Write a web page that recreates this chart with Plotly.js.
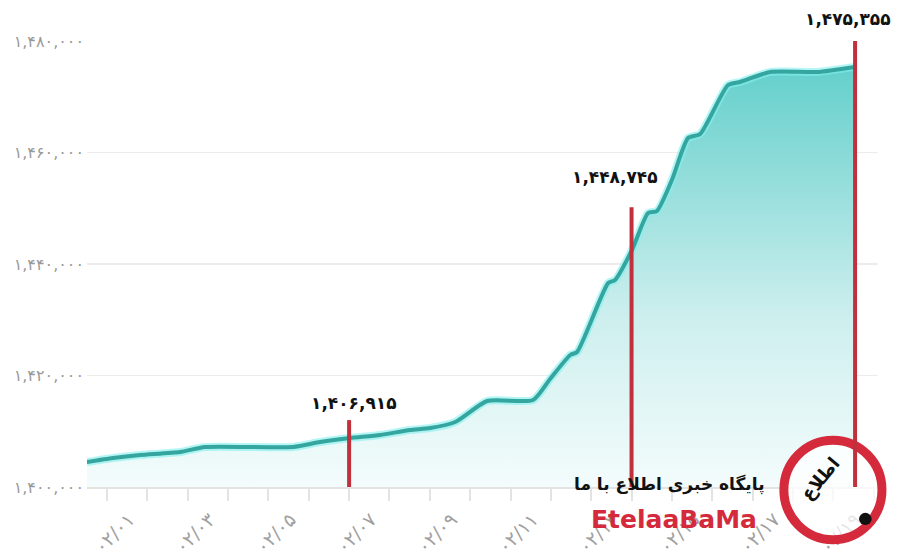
<!DOCTYPE html>
<html>
<head>
<meta charset="utf-8">
<script src="https://cdn.plot.ly/plotly-3.0.1.min.js"></script>
<style>html,body{margin:0;padding:0;background:#fff;}#chart{width:898px;height:557px;}</style>
</head>
<body>
<div id="chart"></div>
<script>
// ---- data ----
const days = [0.50, 1.15, 1.82, 2.81, 3.43, 5.61, 6.28, 7.02, 7.77, 8.51, 9.01, 9.63, 10.42, 11.56, 11.98, 12.48, 12.65, 13.42, 13.59, 14.01, 14.41, 14.63, 15.00, 15.40, 15.70, 16.39, 16.69, 17.43, 18.60, 19.54];
const values = [1404480, 1405200, 1405740, 1406280, 1407180, 1407180, 1408070, 1408790, 1409330, 1410220, 1410580, 1411660, 1415430, 1415610, 1419370, 1423680, 1424220, 1436590, 1437130, 1442510, 1449150, 1449510, 1455070, 1462600, 1463320, 1472110, 1472650, 1474440, 1474440, 1475355];

const markerDays = [7, 14, 19.54];
const markerValues = [1406915, 1448745, 1475355];
const markerTops = [1412000, 1450200, 1480000];

const yTickVals = [1400000, 1420000, 1440000, 1460000, 1480000];
const xTickDays = [1,2,3,4,5,6,7,8,9,10,11,12,13,14,15,16,17,18,19,20];
const xTickLabels = ['۰۲/۰۱','','۰۲/۰۳','','۰۲/۰۵','','۰۲/۰۷','','۰۲/۰۹','','۰۲/۱۱','','۰۲/۱۳','','۰۲/۱۵','','۰۲/۱۷','','۰۲/۱۹',''];

// ---- helpers ----
const faDigits = '۰۱۲۳۴۵۶۷۸۹';
function toFa(n) {
  return n.toLocaleString('en-US').replace(/[0-9]/g, d => faDigits[+d]);
}

const FONT = 'DejaVu Sans, Noto Sans, sans-serif';
const RED = '#c1303d';
const LINE_SHAPE = {shape: 'spline', smoothing: 0.6};

const area = {
  x: days, y: values, type: 'scatter', mode: 'lines',
  line: Object.assign({color: 'rgba(0,0,0,0)', width: 0}, LINE_SHAPE),
  fill: 'tozeroy',
  fillgradient: {
    type: 'vertical', start: 1400000, stop: 1476000,
    colorscale: [[0, '#f4fcfc'], [0.4, '#cdefee'], [1, '#63cfcb']]
  },
  hoverinfo: 'skip'
};
const glow = {
  x: days, y: values, type: 'scatter', mode: 'lines',
  line: Object.assign({color: 'rgba(130,240,238,0.6)', width: 8}, LINE_SHAPE),
  hoverinfo: 'skip'
};
const main = {
  x: days, y: values, type: 'scatter', mode: 'lines',
  line: Object.assign({color: '#34a59f', width: 4}, LINE_SHAPE),
  hoverinfo: 'skip'
};

const labelShiftX = [5, -17, -7];
const labelShiftY = [17, 30, 22];

const shapes = [];
// watermark logo (behind the red markers)
shapes.push({
  type: 'circle', xref: 'paper', yref: 'paper',
  x0: 0.881, x1: 1.005, y0: -0.118, y1: 0.105,
  line: {color: '#d42a3c', width: 9}, fillcolor: 'rgba(255,255,255,0.75)', layer: 'above'
});
shapes.push({
  type: 'circle', xref: 'paper', yref: 'paper',
  x0: 0.976, x1: 0.992, y0: -0.085, y1: -0.058,
  line: {color: '#111', width: 0}, fillcolor: '#111', layer: 'above'
});
markerDays.forEach((d, i) => shapes.push({
  type: 'line', xref: 'x', yref: 'y',
  x0: d, x1: d, y0: 1400000, y1: markerTops[i],
  line: {color: RED, width: 4}, layer: 'above'
}));

const annotations = markerDays.map((d, i) => ({
  x: d, y: markerTops[i], xref: 'x', yref: 'y',
  text: '<b>' + toFa(markerValues[i]) + '</b>',
  showarrow: false, yanchor: 'middle', xanchor: 'center',
  xshift: labelShiftX[i], yshift: labelShiftY[i],
  font: {family: FONT, size: 17, color: '#111'}
}));

annotations.push({
  xref: 'paper', yref: 'paper', x: 0.737, y: 0.005, xanchor: 'center', yanchor: 'middle',
  text: '<b>پایگاه خبری اطلاع با ما</b>', showarrow: false,
  font: {family: FONT, size: 17, color: '#111'}
});
annotations.push({
  xref: 'paper', yref: 'paper', x: 0.742, y: -0.072, xanchor: 'center', yanchor: 'middle',
  text: '<b>EtelaaBaMa</b>', showarrow: false,
  font: {family: FONT, size: 25, color: '#d42a3c'}
});
annotations.push({
  xref: 'paper', yref: 'paper', x: 0.927, y: 0.018, xanchor: 'center', yanchor: 'middle',
  text: '<b>اطلاع</b>', showarrow: false, textangle: -50,
  font: {family: FONT, size: 18, color: '#111'}
});

const layout = {
  width: 898, height: 557, autosize: false,
  margin: {l: 87, r: 20, t: 41, b: 70},
  paper_bgcolor: '#fff', plot_bgcolor: '#fff',
  showlegend: false,
  xaxis: {
    range: [0.504, 20.108],
    tickmode: 'array', tickvals: xTickDays, ticktext: xTickLabels,
    tickangle: -45, ticks: 'outside', ticklen: 12, tickwidth: 2, tickcolor: '#e3e3e3',
    ticklabelshift: 22,
    showgrid: false, zeroline: false,
    showline: true, linecolor: '#e3e3e3', linewidth: 2,
    tickfont: {family: FONT, size: 19, color: '#a0a0a0'}
  },
  yaxis: {
    range: [1400000, 1480000],
    tickmode: 'array', tickvals: yTickVals, ticktext: yTickVals.map(toFa),
    showgrid: true, gridcolor: '#ececec', gridwidth: 1.5,
    zeroline: false, ticks: '', ticklabelstandoff: 2,
    tickfont: {family: FONT, size: 16, color: '#9a9a9a'}
  },
  shapes: shapes,
  annotations: annotations
};

Plotly.newPlot('chart', [area, glow, main], layout, {displayModeBar: false, staticPlot: true});
</script>
</body>
</html>
